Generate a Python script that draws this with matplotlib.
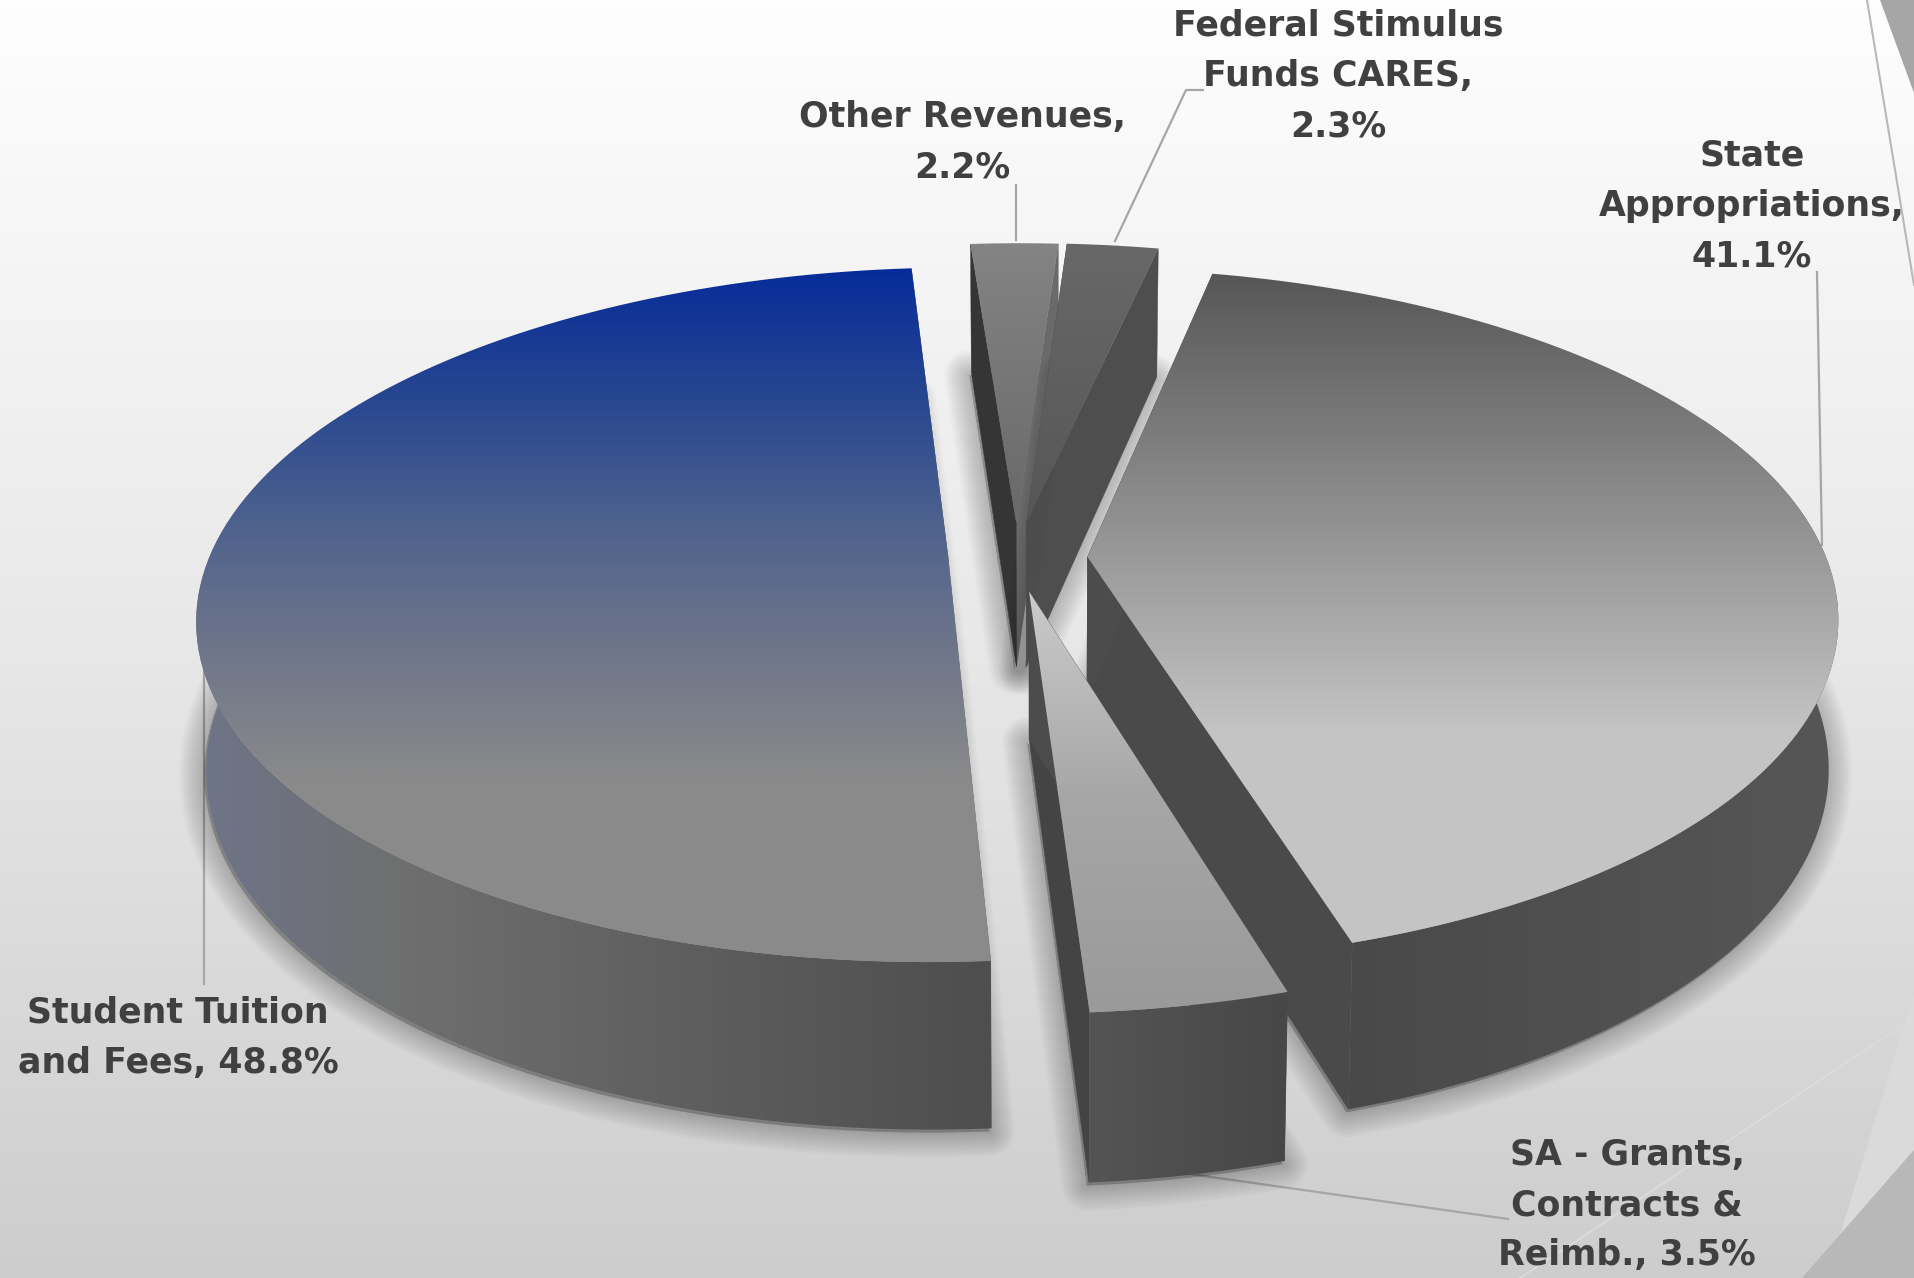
# Exploded 3D pie of revenue shares, drawn by hand since matplotlib has no perspective pie.
import numpy as np
import matplotlib.pyplot as plt
from matplotlib.colors import LinearSegmentedColormap
from matplotlib.patches import Polygon

# data, clockwise from the back of the pie:
names = ["Other Revenues", "Federal Stimulus\nFunds CARES", "State\nAppropriations",
         "SA - Grants,\nContracts &\nReimb.", "Student Tuition\nand Fees"]
shares = [2.2, 2.3, 41.1, 3.5, 48.8]
separators = [",\n", ",\n", ",\n", ", ", ", "]

# how far each slice is pulled out, in pie radii (right, back):
explode_x = [-0.030, -0.016, 0.067, -0.012, -0.122]
explode_y = [0.115, 0.115, 0.012, -0.088, 0.015]

# the projection:
W, H = 1914, 1278
cx, cy = 1038, 561
rx, ry = 740, 339
persp = 0.17
depth = 146
conv = 0.012
start_angle = -4.5

# face colours (gradient stops as (pixel position, colour)):
top_faces = [[(240, "#848484"), (530, "#686868")],
             [(240, "#686868"), (530, "#565656")],
             [(268, "#555555"), (500, "#8c8c8c"), (732, "#c4c4c4")],
             [(596, "#cacaca"), (800, "#a6a6a6"), (1010, "#9a9a9a")],
             [(266, "#062b9a"), (400, "#284790"), (520, "#4d618e"), (640, "#6c748a"), (781, "#8a8a8a")]]
arc_faces = [[(900, "#4c4c4c"), (1100, "#4c4c4c")],
             [(900, "#4c4c4c"), (1100, "#4c4c4c")],
             [(1340, "#494949"), (1830, "#565656")],
             [(1090, "#545454"), (1290, "#474747")],
             [(205, "#6e7488"), (400, "#6f6f6f"), (730, "#5c5c5c"), (990, "#4e4e4e")]]
# the two straight cut faces of each slice (first edge, second edge):
cut_faces = [("#353535", "#6a6a6a"), ("#4c4c4c", "#4e4e4e"), ("#4c4c4c", "#4a4a4a"),
             ("#4c4c4c", "#444444"), ("#6a6a6a", "#4c4c4c")]

# label centres and the leader lines:
label_xy = [(962, 142), (1338, 76), (1752, 206), (1627, 1205), (178, 1038)]
leaders = [[(1016, 185), (1016, 240)],
           [(1203, 90), (1186, 90), (1115, 241)],
           [(1817, 272), (1822, 545)],
           [(1508, 1219), (1190, 1174)],
           [(204, 984), (204, 670)]]


def project(u, v, bottom=False):
    w = 1 / (1 + persp * v)
    x = cx + rx * u * w
    y = cy - ry * v * w
    if bottom:
        x = cx + (x - cx) * (1 - conv)
        y = y + depth * w ** 0.75
    return x, y


def gradient_fill(ax, points, stops, z, vertical=True):
    """Fill a polygon with a linear gradient, clipped to the polygon."""
    points = np.array(points)
    lo = stops[0][0]
    hi = stops[-1][0]
    cmap = LinearSegmentedColormap.from_list(
        "g", [((p - lo) / (hi - lo), c) for p, c in stops])
    ramp = np.linspace(0, 1, 256)
    grad = ramp[:, None] if vertical else ramp[None, :]
    extent = (0, W, hi, lo) if vertical else (lo, hi, H, 0)
    patch = Polygon(points, closed=True, fc="none", ec="none", transform=ax.transData)
    ax.add_patch(patch)
    # the end colours carry on past the stops
    if vertical:
        pads = [ax.axhspan(0, lo, fc=stops[0][1], ec="none", lw=0),
                ax.axhspan(hi, H, fc=stops[-1][1], ec="none", lw=0)]
    else:
        pads = [ax.axvspan(0, lo, fc=stops[0][1], ec="none", lw=0),
                ax.axvspan(hi, W, fc=stops[-1][1], ec="none", lw=0)]
    for r in pads:
        r.set_zorder(z)
        r.set_clip_path(patch)
    im = ax.imshow(grad, cmap=cmap, extent=extent, aspect="auto", vmin=0, vmax=1,
                   interpolation="bilinear", zorder=z)
    im.set_clip_path(patch)


fig = plt.figure(figsize=(W / 100, H / 100), dpi=100)
ax = fig.add_axes([0, 0, 1, 1])
ax.set_axis_off()

# slide background
bg = LinearSegmentedColormap.from_list("bg", ["#fefefe", "#e8e8e8", "#cdcdcd"])
ax.imshow(np.linspace(0, 1, 256)[:, None], cmap=bg, extent=(0, W, H, 0), aspect="auto", zorder=0)
ax.add_patch(Polygon([(1914, 992), (1840, 1235), (1914, 1150)], fc="#dadada", ec="none", zorder=1))
ax.add_patch(Polygon([(1880, 0), (1914, 0), (1914, 93)], fc="#a6a6a6", ec="none", zorder=1))
ax.add_patch(Polygon([(1802, 1278), (1914, 1150), (1914, 1278)], fc="#b8b8b8", ec="none", zorder=1))
ax.plot([1867, 1914], [0, 285], color="#b8b8b8", lw=1.5, zorder=1)
ax.plot([1914, 1520], [1018, 1278], color="#dcdcdc", lw=1.2, zorder=1)

# leader lines go under the slices
for line in leaders:
    ax.plot([p[0] for p in line], [p[1] for p in line], color="#a6a6a6", lw=1.6, zorder=2)

# slice angles from the shares
fracs = np.array(shares) / sum(shares) * 360
ends = start_angle + np.cumsum(fracs)
starts = ends - fracs

# painter's order: the two back slivers, then the big ones, the small front slice last
z = 3
for i in [0, 1, 4, 2, 3]:
    t = np.radians(np.linspace(starts[i], ends[i], 120))
    u = np.sin(t) + explode_x[i]
    v = np.cos(t) + explode_y[i]

    top = [project(a, b) for a, b in zip(u, v)]
    low = [project(a, b, True) for a, b in zip(u, v)]
    apex = project(explode_x[i], explode_y[i])
    apex_low = project(explode_x[i], explode_y[i], True)

    # soft shadow under the slice
    foot = np.array([apex_low] + low) + np.array([-2, 3])
    for lw in range(36, 0, -3):
        ax.add_patch(Polygon(foot, closed=True, fc="k", ec="k", lw=lw, alpha=0.018,
                             joinstyle="round", zorder=z))
    z += 1

    # cut faces
    cut_a = [apex, top[0], low[0], apex_low]
    cut_b = [apex, top[-1], low[-1], apex_low]
    if i == 4:
        order = [(cut_a, cut_faces[i][0]), (cut_b, cut_faces[i][1])]
    else:
        order = [(cut_b, cut_faces[i][1]), (cut_a, cut_faces[i][0])]
    for face, col in order:
        ax.add_patch(Polygon(face, closed=True, fc=col, ec=col, lw=0.3, zorder=z))
        z += 1

    # outer rim, only the part that faces us (the hidden end sits under the top face)
    front = np.cos(t) < 0.45
    if front.sum() > 1 and i != 0 and i != 1:
        rim_top = [p for p, f in zip(top, front) if f]
        rim_low = [p for p, f in zip(low, front) if f]
        gradient_fill(ax, rim_top + rim_low[::-1], arc_faces[i], z, vertical=False)
        z += 1

    # top face
    gradient_fill(ax, [apex] + top, top_faces[i], z)
    z += 1

# labels
for i in range(len(names)):
    ax.text(label_xy[i][0], label_xy[i][1], f"{names[i]}{separators[i]}{shares[i]}%",
            ha="center", va="center", fontsize=25, family="DejaVu Sans", weight="bold",
            color="#404040", linespacing=1.6, zorder=z)

ax.set_xlim(0, W)
ax.set_ylim(H, 0)
fig.savefig("out.png", dpi=100)
